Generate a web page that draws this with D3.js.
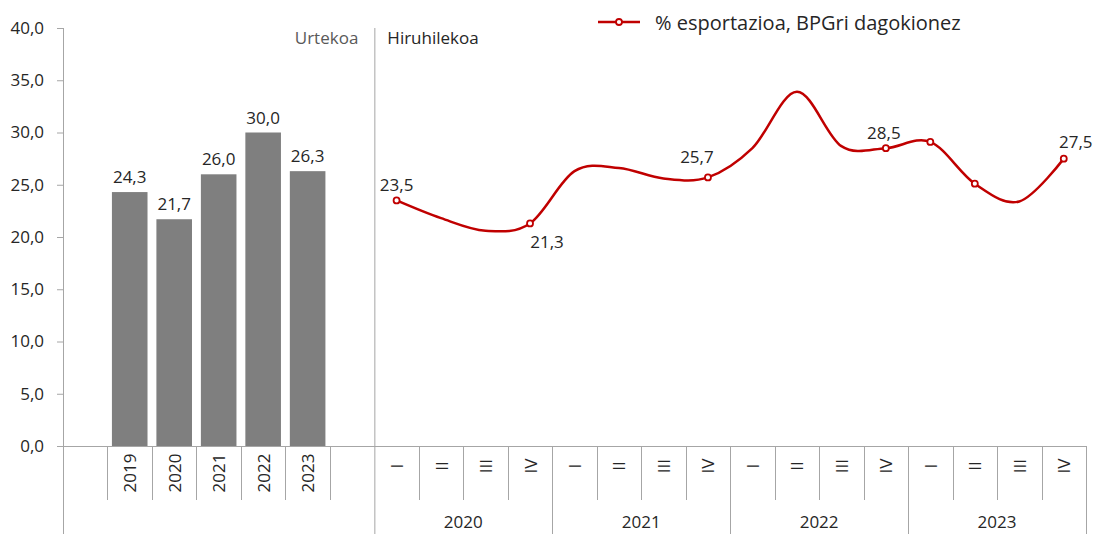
<!DOCTYPE html>
<html>
<head>
<meta charset="utf-8">
<script src="https://cdn.jsdelivr.net/npm/d3@7"></script>
<style>
  body { margin: 0; background: #fff; }
  svg text { font-family: "Open Sans", "Noto Sans", sans-serif; fill: #262626; }
</style>
</head>
<body>
<div id="chart"></div>
<script>
// annual bars
var annualYears = ['2019', '2020', '2021', '2022', '2023'];
var annualValues = [24.3, 21.7, 26.0, 30.0, 26.3];

// quarterly line, 2020 I .. 2023 IV
var quarterYears = ['2020', '2021', '2022', '2023'];
var quarterNames = ['I', 'II', 'III', 'IV'];
var quarterValues = [23.5, 21.8, 20.6, 21.3, 26.3, 26.6, 25.6, 25.7,
                     28.5, 33.9, 28.7, 28.5, 29.1, 25.1, 23.4, 27.5];
var markedPoints = [0, 3, 7, 11, 12, 13, 15];
var labelledPoints = [0, 3, 7, 11, 15];

var yTicks = [0, 5, 10, 15, 20, 25, 30, 35, 40];
var seriesName = '% esportazioa, BPGri dagokionez';

var w = 1108, h = 534;
var axisColor = '#a6a6a6';
var red = '#c00000';
var fs = '17px';

var fmt = d3.formatLocale({ decimal: ',', thousands: '.', grouping: [3], currency: ['', ''] }).format('.1f');

var svg = d3.select('#chart').append('svg')
  .attr('width', w)
  .attr('height', h);

// one category axis for both panels
var quarterKeys = [];
quarterYears.forEach(function (y) {
  quarterNames.forEach(function (q) { quarterKeys.push(y + '-' + q); });
});
var cats = ['gapA'].concat(annualYears, ['gapB'], quarterKeys);

var x = d3.scaleBand().domain(cats).range([63, 1086]).padding(0);
var y = d3.scaleLinear().domain([0, 40]).range([446, 28]);
var bw = x.bandwidth();

// y axis
var yAxis = svg.append('g')
  .attr('transform', 'translate(63,0)')
  .call(d3.axisLeft(y).tickValues(yTicks).tickSize(6).tickPadding(13).tickFormat(fmt));
yAxis.select('.domain').remove();
yAxis.selectAll('.tick line').attr('stroke', axisColor);
yAxis.selectAll('.tick text').style('font-size', fs).attr('fill', '#262626');

svg.append('line')
  .attr('x1', 63.5).attr('x2', 63.5).attr('y1', 28).attr('y2', h)
  .attr('stroke', axisColor);

// panel separator
var sepX = x('gapB') + bw;
svg.append('line')
  .attr('x1', sepX + 0.5).attr('x2', sepX + 0.5).attr('y1', 28).attr('y2', h)
  .attr('stroke', axisColor);

// baseline
svg.append('line')
  .attr('x1', 57).attr('x2', 1086).attr('y1', y(0) + 0.5).attr('y2', y(0) + 0.5)
  .attr('stroke', axisColor);

// short category ticks
var shortTicks = [];
annualYears.concat(['gapB']).forEach(function (c) { shortTicks.push(x(c)); });
quarterKeys.forEach(function (k, i) { if (i % 4 !== 0) shortTicks.push(x(k)); });
svg.selectAll('.stick').data(shortTicks).enter().append('line')
  .attr('x1', function (d) { return Math.round(d) + 0.5; })
  .attr('x2', function (d) { return Math.round(d) + 0.5; })
  .attr('y1', y(0)).attr('y2', 500)
  .attr('stroke', axisColor);

// group ticks for quarter years
var groupTicks = quarterYears.map(function (yr, i) { return x(quarterKeys[i * 4 + 3]) + bw; });
svg.selectAll('.gtick').data(groupTicks).enter().append('line')
  .attr('x1', function (d) { return Math.round(d) + 0.5; })
  .attr('x2', function (d) { return Math.round(d) + 0.5; })
  .attr('y1', y(0)).attr('y2', h)
  .attr('stroke', axisColor);

// bars
var barW = bw * 0.8;
svg.selectAll('.bar').data(annualValues).enter().append('rect')
  .attr('x', function (d, i) { return x(annualYears[i]) + (bw - barW) / 2; })
  .attr('y', function (d) { return y(d); })
  .attr('width', barW)
  .attr('height', function (d) { return y(0) - y(d); })
  .attr('fill', '#7f7f7f');

svg.selectAll('.blabel').data(annualValues).enter().append('text')
  .attr('x', function (d, i) { return x(annualYears[i]) + bw / 2; })
  .attr('y', function (d) { return y(d) - 9; })
  .attr('text-anchor', 'middle')
  .style('font-size', fs)
  .text(fmt);

// rotated category labels
svg.selectAll('.ylab').data(annualYears).enter().append('text')
  .attr('transform', function (d) { return 'translate(' + (x(d) + bw / 2) + ',473) rotate(-90)'; })
  .attr('text-anchor', 'middle')
  .attr('dominant-baseline', 'central')
  .style('font-size', fs)
  .text(function (d) { return d; });

svg.selectAll('.qlab').data(quarterKeys).enter().append('text')
  .attr('transform', function (d) { return 'translate(' + (x(d) + bw / 2) + ',466) rotate(-90)'; })
  .attr('text-anchor', 'middle')
  .attr('dominant-baseline', 'central')
  .style('font-size', fs)
  .text(function (d) { return d.split('-')[1]; });

svg.selectAll('.glab').data(quarterYears).enter().append('text')
  .attr('x', function (d, i) { return (x(quarterKeys[i * 4]) + x(quarterKeys[i * 4 + 3]) + bw) / 2; })
  .attr('y', 528)
  .attr('text-anchor', 'middle')
  .style('font-size', fs)
  .text(function (d) { return d; });

// panel titles
svg.append('text')
  .attr('x', sepX - 16).attr('y', 44)
  .attr('text-anchor', 'end')
  .style('font-size', fs)
  .style('fill', '#595959')
  .text('Urtekoa');
svg.append('text')
  .attr('x', sepX + 13).attr('y', 44)
  .style('font-size', fs)
  .text('Hiruhilekoa');

// line
var pts = quarterValues.map(function (v, i) { return [x(quarterKeys[i]) + bw / 2, y(v)]; });
svg.append('path')
  .datum(pts)
  .attr('fill', 'none')
  .attr('stroke', red)
  .attr('stroke-width', 2.5)
  .attr('d', d3.line().curve(d3.curveCatmullRom.alpha(0)));

svg.selectAll('.mk').data(markedPoints).enter().append('circle')
  .attr('cx', function (i) { return pts[i][0]; })
  .attr('cy', function (i) { return pts[i][1]; })
  .attr('r', 3)
  .attr('fill', '#fff')
  .attr('stroke', red)
  .attr('stroke-width', 1.8);

var labelOffset = { 0: [0, -9], 3: [17, 25], 7: [-11, -14], 11: [-2, -9], 15: [12, -11] };
svg.selectAll('.llab').data(labelledPoints).enter().append('text')
  .attr('x', function (i) { return pts[i][0] + labelOffset[i][0]; })
  .attr('y', function (i) { return pts[i][1] + labelOffset[i][1]; })
  .attr('text-anchor', 'middle')
  .style('font-size', fs)
  .text(function (i) { return fmt(quarterValues[i]); });

// legend
var lg = svg.append('g').attr('transform', 'translate(598,22)');
lg.append('line').attr('x1', 0).attr('x2', 42).attr('stroke', red).attr('stroke-width', 2.5);
lg.append('circle').attr('cx', 21).attr('r', 3).attr('fill', '#fff').attr('stroke', red).attr('stroke-width', 1.8);
lg.append('text').attr('x', 57).attr('y', 0)
  .attr('dominant-baseline', 'central')
  .style('font-size', '20px')
  .text(seriesName);
</script>
</body>
</html>
